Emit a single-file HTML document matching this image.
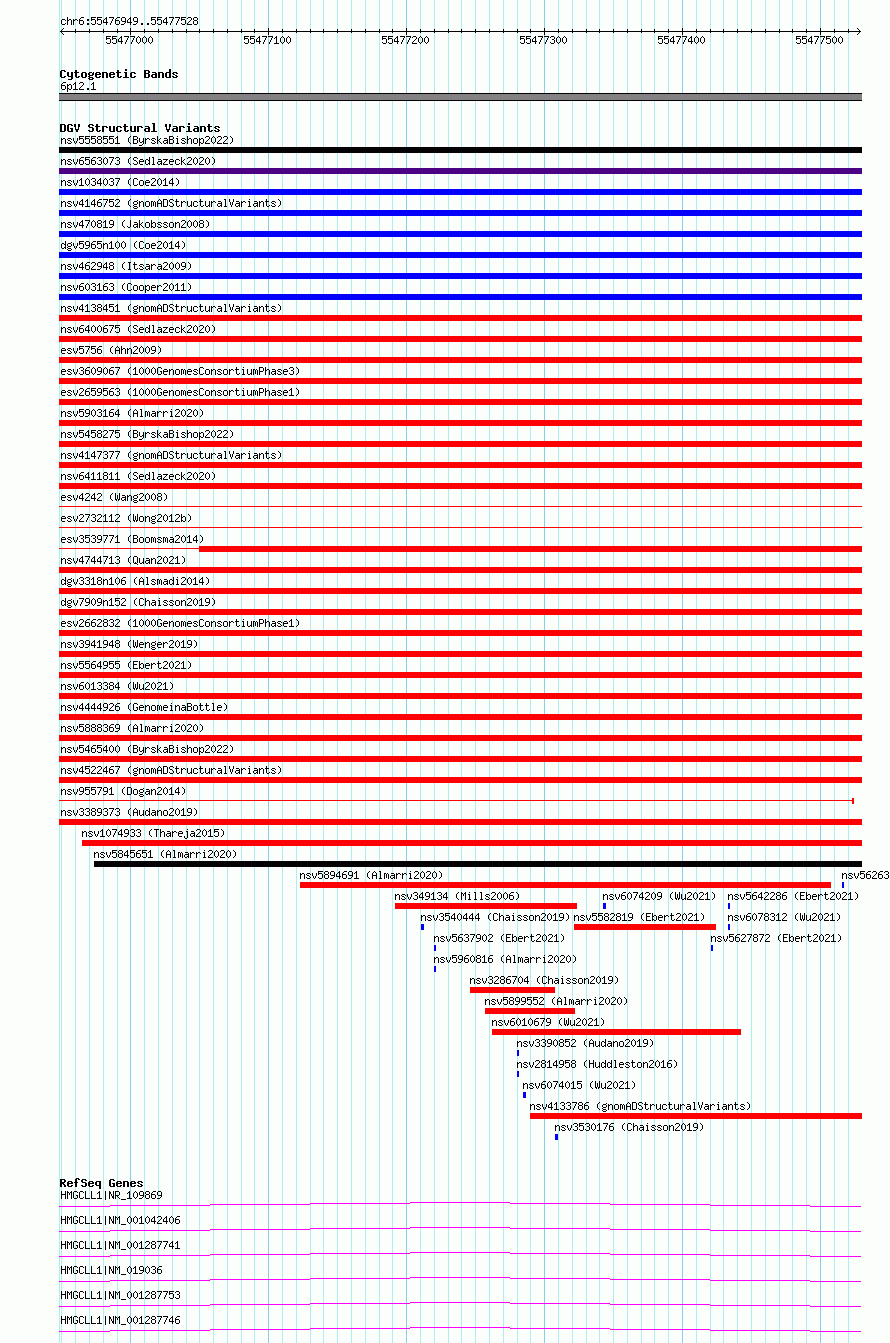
<!DOCTYPE html>
<html lang="en"><head><meta charset="utf-8"><title>chr6:55476949..55477528</title>
<style>html,body{margin:0;padding:0;overflow:hidden;background:#fcfefc;}body{width:890px;height:1343px;overflow:hidden;font-family:"Liberation Mono",monospace;}svg{display:block;}svg text{font-family:"Liberation Mono",monospace;font-size:10px;fill:#000;fill-opacity:0;white-space:pre;}svg text.b{font-weight:bold;font-size:11.67px;}</style></head><body>
<svg width="890" height="1343" viewBox="0 0 890 1343" shape-rendering="crispEdges">
<defs><path id="s40" d="M3 3h1v1h-1zM2 4h1v1h-1zM1 5h1v1h-1zM1 6h1v1h-1zM1 7h1v1h-1zM1 8h1v1h-1zM2 9h1v1h-1zM3 10h1v1h-1z"/><path id="s41" d="M1 3h1v1h-1zM2 4h1v1h-1zM3 5h1v1h-1zM3 6h1v1h-1zM3 7h1v1h-1zM3 8h1v1h-1zM2 9h1v1h-1zM1 10h1v1h-1z"/><path id="s46" d="M2 9h2v1h-2zM2 10h2v1h-2z"/><path id="s48" d="M2 3h1v1h-1zM1 4h1v1h-1zM3 4h1v1h-1zM0 5h1v1h-1zM4 5h1v1h-1zM0 6h1v1h-1zM4 6h1v1h-1zM0 7h1v1h-1zM4 7h1v1h-1zM0 8h1v1h-1zM4 8h1v1h-1zM1 9h1v1h-1zM3 9h1v1h-1zM2 10h1v1h-1z"/><path id="s49" d="M2 3h1v1h-1zM1 4h2v1h-2zM0 5h1v1h-1zM2 5h1v1h-1zM2 6h1v1h-1zM2 7h1v1h-1zM2 8h1v1h-1zM2 9h1v1h-1zM0 10h5v1h-5z"/><path id="s50" d="M1 3h3v1h-3zM0 4h1v1h-1zM4 4h1v1h-1zM4 5h1v1h-1zM3 6h1v1h-1zM2 7h1v1h-1zM1 8h1v1h-1zM0 9h1v1h-1zM0 10h5v1h-5z"/><path id="s51" d="M1 3h3v1h-3zM0 4h1v1h-1zM4 4h1v1h-1zM4 5h1v1h-1zM2 6h2v1h-2zM4 7h1v1h-1zM4 8h1v1h-1zM0 9h1v1h-1zM4 9h1v1h-1zM1 10h3v1h-3z"/><path id="s52" d="M3 3h1v1h-1zM2 4h2v1h-2zM1 5h1v1h-1zM3 5h1v1h-1zM0 6h1v1h-1zM3 6h1v1h-1zM0 7h1v1h-1zM3 7h1v1h-1zM0 8h5v1h-5zM3 9h1v1h-1zM3 10h1v1h-1z"/><path id="s53" d="M0 3h5v1h-5zM0 4h1v1h-1zM0 5h4v1h-4zM0 6h1v1h-1zM4 6h1v1h-1zM4 7h1v1h-1zM4 8h1v1h-1zM0 9h1v1h-1zM4 9h1v1h-1zM1 10h3v1h-3z"/><path id="s54" d="M2 3h3v1h-3zM1 4h1v1h-1zM0 5h1v1h-1zM0 6h4v1h-4zM0 7h1v1h-1zM4 7h1v1h-1zM0 8h1v1h-1zM4 8h1v1h-1zM0 9h1v1h-1zM4 9h1v1h-1zM1 10h3v1h-3z"/><path id="s55" d="M0 3h5v1h-5zM4 4h1v1h-1zM3 5h1v1h-1zM3 6h1v1h-1zM2 7h1v1h-1zM2 8h1v1h-1zM1 9h1v1h-1zM1 10h1v1h-1z"/><path id="s56" d="M1 3h3v1h-3zM0 4h1v1h-1zM4 4h1v1h-1zM0 5h1v1h-1zM4 5h1v1h-1zM1 6h3v1h-3zM0 7h1v1h-1zM4 7h1v1h-1zM0 8h1v1h-1zM4 8h1v1h-1zM0 9h1v1h-1zM4 9h1v1h-1zM1 10h3v1h-3z"/><path id="s57" d="M1 3h3v1h-3zM0 4h1v1h-1zM4 4h1v1h-1zM0 5h1v1h-1zM4 5h1v1h-1zM0 6h1v1h-1zM4 6h1v1h-1zM1 7h4v1h-4zM4 8h1v1h-1zM3 9h1v1h-1zM0 10h3v1h-3z"/><path id="s58" d="M2 5h2v1h-2zM2 6h2v1h-2zM2 9h2v1h-2zM2 10h2v1h-2z"/><path id="s65" d="M2 3h1v1h-1zM1 4h1v1h-1zM3 4h1v1h-1zM0 5h1v1h-1zM4 5h1v1h-1zM0 6h1v1h-1zM4 6h1v1h-1zM0 7h5v1h-5zM0 8h1v1h-1zM4 8h1v1h-1zM0 9h1v1h-1zM4 9h1v1h-1zM0 10h1v1h-1zM4 10h1v1h-1z"/><path id="s66" d="M0 3h4v1h-4zM0 4h1v1h-1zM4 4h1v1h-1zM0 5h1v1h-1zM4 5h1v1h-1zM0 6h4v1h-4zM0 7h1v1h-1zM4 7h1v1h-1zM0 8h1v1h-1zM4 8h1v1h-1zM0 9h1v1h-1zM4 9h1v1h-1zM0 10h4v1h-4z"/><path id="s67" d="M1 3h3v1h-3zM0 4h1v1h-1zM4 4h1v1h-1zM0 5h1v1h-1zM0 6h1v1h-1zM0 7h1v1h-1zM0 8h1v1h-1zM0 9h1v1h-1zM4 9h1v1h-1zM1 10h3v1h-3z"/><path id="s68" d="M0 3h4v1h-4zM0 4h1v1h-1zM4 4h1v1h-1zM0 5h1v1h-1zM4 5h1v1h-1zM0 6h1v1h-1zM4 6h1v1h-1zM0 7h1v1h-1zM4 7h1v1h-1zM0 8h1v1h-1zM4 8h1v1h-1zM0 9h1v1h-1zM4 9h1v1h-1zM0 10h4v1h-4z"/><path id="s69" d="M0 3h5v1h-5zM0 4h1v1h-1zM0 5h1v1h-1zM0 6h4v1h-4zM0 7h1v1h-1zM0 8h1v1h-1zM0 9h1v1h-1zM0 10h5v1h-5z"/><path id="s71" d="M1 3h3v1h-3zM0 4h1v1h-1zM4 4h1v1h-1zM0 5h1v1h-1zM0 6h1v1h-1zM0 7h1v1h-1zM3 7h2v1h-2zM0 8h1v1h-1zM4 8h1v1h-1zM0 9h1v1h-1zM4 9h1v1h-1zM1 10h3v1h-3z"/><path id="s72" d="M0 3h1v1h-1zM4 3h1v1h-1zM0 4h1v1h-1zM4 4h1v1h-1zM0 5h1v1h-1zM4 5h1v1h-1zM0 6h5v1h-5zM0 7h1v1h-1zM4 7h1v1h-1zM0 8h1v1h-1zM4 8h1v1h-1zM0 9h1v1h-1zM4 9h1v1h-1zM0 10h1v1h-1zM4 10h1v1h-1z"/><path id="s73" d="M1 3h3v1h-3zM2 4h1v1h-1zM2 5h1v1h-1zM2 6h1v1h-1zM2 7h1v1h-1zM2 8h1v1h-1zM2 9h1v1h-1zM1 10h3v1h-3z"/><path id="s74" d="M3 3h1v1h-1zM3 4h1v1h-1zM3 5h1v1h-1zM3 6h1v1h-1zM3 7h1v1h-1zM3 8h1v1h-1zM0 9h1v1h-1zM3 9h1v1h-1zM1 10h2v1h-2z"/><path id="s76" d="M0 3h1v1h-1zM0 4h1v1h-1zM0 5h1v1h-1zM0 6h1v1h-1zM0 7h1v1h-1zM0 8h1v1h-1zM0 9h1v1h-1zM0 10h5v1h-5z"/><path id="s77" d="M0 3h1v1h-1zM4 3h1v1h-1zM0 4h2v1h-2zM3 4h2v1h-2zM0 5h1v1h-1zM2 5h1v1h-1zM4 5h1v1h-1zM0 6h1v1h-1zM2 6h1v1h-1zM4 6h1v1h-1zM0 7h1v1h-1zM4 7h1v1h-1zM0 8h1v1h-1zM4 8h1v1h-1zM0 9h1v1h-1zM4 9h1v1h-1zM0 10h1v1h-1zM4 10h1v1h-1z"/><path id="s78" d="M0 3h1v1h-1zM4 3h1v1h-1zM0 4h2v1h-2zM4 4h1v1h-1zM0 5h2v1h-2zM4 5h1v1h-1zM0 6h1v1h-1zM2 6h1v1h-1zM4 6h1v1h-1zM0 7h1v1h-1zM2 7h1v1h-1zM4 7h1v1h-1zM0 8h1v1h-1zM3 8h2v1h-2zM0 9h1v1h-1zM3 9h2v1h-2zM0 10h1v1h-1zM4 10h1v1h-1z"/><path id="s80" d="M0 3h4v1h-4zM0 4h1v1h-1zM4 4h1v1h-1zM0 5h1v1h-1zM4 5h1v1h-1zM0 6h1v1h-1zM4 6h1v1h-1zM0 7h4v1h-4zM0 8h1v1h-1zM0 9h1v1h-1zM0 10h1v1h-1z"/><path id="s81" d="M1 3h3v1h-3zM0 4h1v1h-1zM4 4h1v1h-1zM0 5h1v1h-1zM4 5h1v1h-1zM0 6h1v1h-1zM4 6h1v1h-1zM0 7h1v1h-1zM4 7h1v1h-1zM0 8h1v1h-1zM4 8h1v1h-1zM0 9h1v1h-1zM2 9h1v1h-1zM4 9h1v1h-1zM1 10h3v1h-3zM4 11h1v1h-1z"/><path id="s82" d="M0 3h4v1h-4zM0 4h1v1h-1zM4 4h1v1h-1zM0 5h1v1h-1zM4 5h1v1h-1zM0 6h1v1h-1zM4 6h1v1h-1zM0 7h4v1h-4zM0 8h1v1h-1zM2 8h1v1h-1zM0 9h1v1h-1zM3 9h1v1h-1zM0 10h1v1h-1zM4 10h1v1h-1z"/><path id="s83" d="M1 3h3v1h-3zM0 4h1v1h-1zM4 4h1v1h-1zM0 5h1v1h-1zM1 6h2v1h-2zM3 7h1v1h-1zM4 8h1v1h-1zM0 9h1v1h-1zM4 9h1v1h-1zM1 10h3v1h-3z"/><path id="s84" d="M0 3h5v1h-5zM2 4h1v1h-1zM2 5h1v1h-1zM2 6h1v1h-1zM2 7h1v1h-1zM2 8h1v1h-1zM2 9h1v1h-1zM2 10h1v1h-1z"/><path id="s86" d="M0 3h1v1h-1zM4 3h1v1h-1zM0 4h1v1h-1zM4 4h1v1h-1zM0 5h1v1h-1zM4 5h1v1h-1zM1 6h1v1h-1zM3 6h1v1h-1zM1 7h1v1h-1zM3 7h1v1h-1zM1 8h1v1h-1zM3 8h1v1h-1zM2 9h1v1h-1zM2 10h1v1h-1z"/><path id="s87" d="M0 3h1v1h-1zM4 3h1v1h-1zM0 4h1v1h-1zM4 4h1v1h-1zM0 5h1v1h-1zM2 5h1v1h-1zM4 5h1v1h-1zM0 6h1v1h-1zM2 6h1v1h-1zM4 6h1v1h-1zM0 7h1v1h-1zM2 7h1v1h-1zM4 7h1v1h-1zM0 8h1v1h-1zM2 8h1v1h-1zM4 8h1v1h-1zM0 9h2v1h-2zM3 9h2v1h-2zM1 10h1v1h-1zM3 10h1v1h-1z"/><path id="s95" d="M0 11h5v1h-5z"/><path id="s97" d="M1 5h3v1h-3zM4 6h1v1h-1zM1 7h4v1h-4zM0 8h1v1h-1zM4 8h1v1h-1zM0 9h1v1h-1zM3 9h2v1h-2zM1 10h2v1h-2zM4 10h1v1h-1z"/><path id="s98" d="M0 3h1v1h-1zM0 4h1v1h-1zM0 5h1v1h-1zM2 5h2v1h-2zM0 6h2v1h-2zM4 6h1v1h-1zM0 7h1v1h-1zM4 7h1v1h-1zM0 8h1v1h-1zM4 8h1v1h-1zM0 9h2v1h-2zM4 9h1v1h-1zM0 10h1v1h-1zM2 10h2v1h-2z"/><path id="s99" d="M1 5h3v1h-3zM0 6h1v1h-1zM4 6h1v1h-1zM0 7h1v1h-1zM0 8h1v1h-1zM0 9h1v1h-1zM4 9h1v1h-1zM1 10h3v1h-3z"/><path id="s100" d="M4 3h1v1h-1zM4 4h1v1h-1zM1 5h2v1h-2zM4 5h1v1h-1zM0 6h1v1h-1zM3 6h2v1h-2zM0 7h1v1h-1zM4 7h1v1h-1zM0 8h1v1h-1zM4 8h1v1h-1zM0 9h1v1h-1zM3 9h2v1h-2zM1 10h2v1h-2zM4 10h1v1h-1z"/><path id="s101" d="M1 5h3v1h-3zM0 6h1v1h-1zM4 6h1v1h-1zM0 7h5v1h-5zM0 8h1v1h-1zM0 9h1v1h-1zM1 10h3v1h-3z"/><path id="s103" d="M4 4h1v1h-1zM1 5h3v1h-3zM0 6h1v1h-1zM4 6h1v1h-1zM0 7h1v1h-1zM4 7h1v1h-1zM1 8h3v1h-3zM0 9h1v1h-1zM1 10h3v1h-3zM0 11h1v1h-1zM4 11h1v1h-1zM1 12h3v1h-3z"/><path id="s104" d="M0 3h1v1h-1zM0 4h1v1h-1zM0 5h1v1h-1zM2 5h2v1h-2zM0 6h2v1h-2zM4 6h1v1h-1zM0 7h1v1h-1zM4 7h1v1h-1zM0 8h1v1h-1zM4 8h1v1h-1zM0 9h1v1h-1zM4 9h1v1h-1zM0 10h1v1h-1zM4 10h1v1h-1z"/><path id="s105" d="M2 3h1v1h-1zM1 5h2v1h-2zM2 6h1v1h-1zM2 7h1v1h-1zM2 8h1v1h-1zM2 9h1v1h-1zM1 10h3v1h-3z"/><path id="s106" d="M3 3h1v1h-1zM2 5h2v1h-2zM3 6h1v1h-1zM3 7h1v1h-1zM3 8h1v1h-1zM3 9h1v1h-1zM0 10h1v1h-1zM3 10h1v1h-1zM0 11h1v1h-1zM3 11h1v1h-1zM1 12h2v1h-2z"/><path id="s107" d="M0 3h1v1h-1zM0 4h1v1h-1zM0 5h1v1h-1zM3 5h1v1h-1zM0 6h1v1h-1zM2 6h1v1h-1zM0 7h2v1h-2zM0 8h1v1h-1zM2 8h1v1h-1zM0 9h1v1h-1zM3 9h1v1h-1zM0 10h1v1h-1zM4 10h1v1h-1z"/><path id="s108" d="M1 3h2v1h-2zM2 4h1v1h-1zM2 5h1v1h-1zM2 6h1v1h-1zM2 7h1v1h-1zM2 8h1v1h-1zM2 9h1v1h-1zM1 10h3v1h-3z"/><path id="s109" d="M0 5h2v1h-2zM3 5h1v1h-1zM0 6h1v1h-1zM2 6h1v1h-1zM4 6h1v1h-1zM0 7h1v1h-1zM2 7h1v1h-1zM4 7h1v1h-1zM0 8h1v1h-1zM2 8h1v1h-1zM4 8h1v1h-1zM0 9h1v1h-1zM2 9h1v1h-1zM4 9h1v1h-1zM0 10h1v1h-1zM4 10h1v1h-1z"/><path id="s110" d="M0 5h1v1h-1zM2 5h2v1h-2zM0 6h2v1h-2zM4 6h1v1h-1zM0 7h1v1h-1zM4 7h1v1h-1zM0 8h1v1h-1zM4 8h1v1h-1zM0 9h1v1h-1zM4 9h1v1h-1zM0 10h1v1h-1zM4 10h1v1h-1z"/><path id="s111" d="M1 5h3v1h-3zM0 6h1v1h-1zM4 6h1v1h-1zM0 7h1v1h-1zM4 7h1v1h-1zM0 8h1v1h-1zM4 8h1v1h-1zM0 9h1v1h-1zM4 9h1v1h-1zM1 10h3v1h-3z"/><path id="s112" d="M0 5h1v1h-1zM2 5h2v1h-2zM0 6h2v1h-2zM4 6h1v1h-1zM0 7h1v1h-1zM4 7h1v1h-1zM0 8h1v1h-1zM4 8h1v1h-1zM0 9h2v1h-2zM4 9h1v1h-1zM0 10h1v1h-1zM2 10h2v1h-2zM0 11h1v1h-1zM0 12h1v1h-1z"/><path id="s114" d="M0 5h1v1h-1zM2 5h2v1h-2zM0 6h2v1h-2zM4 6h1v1h-1zM0 7h1v1h-1zM0 8h1v1h-1zM0 9h1v1h-1zM0 10h1v1h-1z"/><path id="s115" d="M1 5h3v1h-3zM0 6h1v1h-1zM4 6h1v1h-1zM1 7h2v1h-2zM3 8h1v1h-1zM0 9h1v1h-1zM4 9h1v1h-1zM1 10h3v1h-3z"/><path id="s116" d="M1 3h1v1h-1zM1 4h1v1h-1zM0 5h4v1h-4zM1 6h1v1h-1zM1 7h1v1h-1zM1 8h1v1h-1zM1 9h1v1h-1zM4 9h1v1h-1zM2 10h2v1h-2z"/><path id="s117" d="M0 5h1v1h-1zM4 5h1v1h-1zM0 6h1v1h-1zM4 6h1v1h-1zM0 7h1v1h-1zM4 7h1v1h-1zM0 8h1v1h-1zM4 8h1v1h-1zM0 9h1v1h-1zM3 9h2v1h-2zM1 10h2v1h-2zM4 10h1v1h-1z"/><path id="s118" d="M0 5h1v1h-1zM4 5h1v1h-1zM0 6h1v1h-1zM4 6h1v1h-1zM0 7h1v1h-1zM4 7h1v1h-1zM1 8h1v1h-1zM3 8h1v1h-1zM1 9h1v1h-1zM3 9h1v1h-1zM2 10h1v1h-1z"/><path id="s121" d="M0 5h1v1h-1zM4 5h1v1h-1zM0 6h1v1h-1zM4 6h1v1h-1zM0 7h1v1h-1zM4 7h1v1h-1zM0 8h1v1h-1zM3 8h2v1h-2zM1 9h2v1h-2zM4 9h1v1h-1zM4 10h1v1h-1zM3 11h1v1h-1zM0 12h3v1h-3z"/><path id="s122" d="M0 5h5v1h-5zM3 6h1v1h-1zM2 7h1v1h-1zM1 8h1v1h-1zM0 9h1v1h-1zM0 10h5v1h-5z"/><path id="s124" d="M2 3h1v1h-1zM2 4h1v1h-1zM2 5h1v1h-1zM2 6h1v1h-1zM2 7h1v1h-1zM2 8h1v1h-1zM2 9h1v1h-1zM2 10h1v1h-1zM2 11h1v1h-1z"/><path id="b66" d="M0 3h5v1h-5zM0 4h2v1h-2zM4 4h2v1h-2zM0 5h2v1h-2zM4 5h2v1h-2zM0 6h5v1h-5zM0 7h2v1h-2zM4 7h2v1h-2zM0 8h2v1h-2zM4 8h2v1h-2zM0 9h2v1h-2zM4 9h2v1h-2zM0 10h5v1h-5z"/><path id="b67" d="M1 3h4v1h-4zM0 4h2v1h-2zM4 4h2v1h-2zM0 5h2v1h-2zM0 6h2v1h-2zM0 7h2v1h-2zM0 8h2v1h-2zM0 9h2v1h-2zM4 9h2v1h-2zM1 10h4v1h-4z"/><path id="b68" d="M0 3h5v1h-5zM0 4h2v1h-2zM4 4h2v1h-2zM0 5h2v1h-2zM4 5h2v1h-2zM0 6h2v1h-2zM4 6h2v1h-2zM0 7h2v1h-2zM4 7h2v1h-2zM0 8h2v1h-2zM4 8h2v1h-2zM0 9h2v1h-2zM4 9h2v1h-2zM0 10h5v1h-5z"/><path id="b71" d="M1 3h4v1h-4zM0 4h2v1h-2zM4 4h2v1h-2zM0 5h2v1h-2zM0 6h2v1h-2zM0 7h2v1h-2zM3 7h3v1h-3zM0 8h2v1h-2zM4 8h2v1h-2zM0 9h2v1h-2zM4 9h2v1h-2zM1 10h5v1h-5z"/><path id="b82" d="M0 3h5v1h-5zM0 4h2v1h-2zM4 4h2v1h-2zM0 5h2v1h-2zM4 5h2v1h-2zM0 6h5v1h-5zM0 7h4v1h-4zM0 8h2v1h-2zM3 8h2v1h-2zM0 9h2v1h-2zM4 9h2v1h-2zM0 10h2v1h-2zM4 10h2v1h-2z"/><path id="b83" d="M1 3h4v1h-4zM0 4h2v1h-2zM4 4h2v1h-2zM0 5h2v1h-2zM1 6h4v1h-4zM4 7h2v1h-2zM4 8h2v1h-2zM0 9h2v1h-2zM4 9h2v1h-2zM1 10h4v1h-4z"/><path id="b86" d="M0 3h2v1h-2zM4 3h2v1h-2zM0 4h2v1h-2zM4 4h2v1h-2zM0 5h2v1h-2zM4 5h2v1h-2zM1 6h1v1h-1zM4 6h1v1h-1zM1 7h1v1h-1zM4 7h1v1h-1zM1 8h4v1h-4zM2 9h2v1h-2zM2 10h2v1h-2z"/><path id="b97" d="M1 5h4v1h-4zM4 6h2v1h-2zM1 7h5v1h-5zM0 8h2v1h-2zM4 8h2v1h-2zM0 9h2v1h-2zM4 9h2v1h-2zM1 10h5v1h-5z"/><path id="b99" d="M1 5h4v1h-4zM0 6h2v1h-2zM4 6h2v1h-2zM0 7h2v1h-2zM0 8h2v1h-2zM0 9h2v1h-2zM4 9h2v1h-2zM1 10h4v1h-4z"/><path id="b100" d="M4 2h2v1h-2zM4 3h2v1h-2zM4 4h2v1h-2zM1 5h5v1h-5zM0 6h2v1h-2zM4 6h2v1h-2zM0 7h2v1h-2zM4 7h2v1h-2zM0 8h2v1h-2zM4 8h2v1h-2zM0 9h2v1h-2zM4 9h2v1h-2zM1 10h5v1h-5z"/><path id="b101" d="M1 5h4v1h-4zM0 6h2v1h-2zM4 6h2v1h-2zM0 7h6v1h-6zM0 8h2v1h-2zM0 9h2v1h-2zM4 9h2v1h-2zM1 10h4v1h-4z"/><path id="b102" d="M2 2h3v1h-3zM1 3h2v1h-2zM4 3h2v1h-2zM1 4h2v1h-2zM1 5h2v1h-2zM0 6h4v1h-4zM1 7h2v1h-2zM1 8h2v1h-2zM1 9h2v1h-2zM1 10h2v1h-2z"/><path id="b103" d="M1 5h3v1h-3zM5 5h1v1h-1zM0 6h2v1h-2zM4 6h2v1h-2zM0 7h2v1h-2zM4 7h2v1h-2zM1 8h4v1h-4zM0 9h2v1h-2zM1 10h4v1h-4zM0 11h2v1h-2zM4 11h2v1h-2zM1 12h4v1h-4z"/><path id="b105" d="M2 2h2v1h-2zM2 3h2v1h-2zM1 5h3v1h-3zM2 6h2v1h-2zM2 7h2v1h-2zM2 8h2v1h-2zM2 9h2v1h-2zM0 10h6v1h-6z"/><path id="b108" d="M1 2h3v1h-3zM2 3h2v1h-2zM2 4h2v1h-2zM2 5h2v1h-2zM2 6h2v1h-2zM2 7h2v1h-2zM2 8h2v1h-2zM2 9h2v1h-2zM0 10h6v1h-6z"/><path id="b110" d="M0 5h5v1h-5zM0 6h2v1h-2zM4 6h2v1h-2zM0 7h2v1h-2zM4 7h2v1h-2zM0 8h2v1h-2zM4 8h2v1h-2zM0 9h2v1h-2zM4 9h2v1h-2zM0 10h2v1h-2zM4 10h2v1h-2z"/><path id="b111" d="M1 5h4v1h-4zM0 6h2v1h-2zM4 6h2v1h-2zM0 7h2v1h-2zM4 7h2v1h-2zM0 8h2v1h-2zM4 8h2v1h-2zM0 9h2v1h-2zM4 9h2v1h-2zM1 10h4v1h-4z"/><path id="b113" d="M1 5h5v1h-5zM0 6h2v1h-2zM4 6h2v1h-2zM0 7h2v1h-2zM4 7h2v1h-2zM0 8h2v1h-2zM4 8h2v1h-2zM1 9h5v1h-5zM4 10h2v1h-2zM4 11h2v1h-2zM4 12h2v1h-2z"/><path id="b114" d="M0 5h5v1h-5zM0 6h2v1h-2zM4 6h2v1h-2zM0 7h2v1h-2zM0 8h2v1h-2zM0 9h2v1h-2zM0 10h2v1h-2z"/><path id="b115" d="M1 5h4v1h-4zM0 6h2v1h-2zM4 6h2v1h-2zM1 7h2v1h-2zM3 8h2v1h-2zM0 9h2v1h-2zM4 9h2v1h-2zM1 10h4v1h-4z"/><path id="b116" d="M1 3h2v1h-2zM1 4h2v1h-2zM0 5h5v1h-5zM1 6h2v1h-2zM1 7h2v1h-2zM1 8h2v1h-2zM1 9h2v1h-2zM4 9h2v1h-2zM2 10h3v1h-3z"/><path id="b117" d="M0 5h2v1h-2zM4 5h2v1h-2zM0 6h2v1h-2zM4 6h2v1h-2zM0 7h2v1h-2zM4 7h2v1h-2zM0 8h2v1h-2zM4 8h2v1h-2zM0 9h2v1h-2zM4 9h2v1h-2zM1 10h5v1h-5z"/><path id="b121" d="M0 5h2v1h-2zM4 5h2v1h-2zM0 6h2v1h-2zM4 6h2v1h-2zM0 7h2v1h-2zM4 7h2v1h-2zM0 8h2v1h-2zM4 8h2v1h-2zM1 9h5v1h-5zM4 10h2v1h-2zM4 11h2v1h-2zM1 12h4v1h-4z"/></defs>
<rect width="890" height="1343" fill="#fcfefc"/>
<path fill="#afeeee" d="M59 0h1v1343h-1zM61 0h1v1343h-1zM75 0h1v1343h-1zM89 0h1v1343h-1zM103 0h1v1343h-1zM117 0h1v1343h-1zM130 0h1v1343h-1zM144 0h1v1343h-1zM158 0h1v1343h-1zM172 0h1v1343h-1zM186 0h1v1343h-1zM199 0h1v1343h-1zM213 0h1v1343h-1zM227 0h1v1343h-1zM241 0h1v1343h-1zM254 0h1v1343h-1zM268 0h1v1343h-1zM282 0h1v1343h-1zM296 0h1v1343h-1zM310 0h1v1343h-1zM323 0h1v1343h-1zM337 0h1v1343h-1zM351 0h1v1343h-1zM365 0h1v1343h-1zM379 0h1v1343h-1zM392 0h1v1343h-1zM406 0h1v1343h-1zM420 0h1v1343h-1zM434 0h1v1343h-1zM448 0h1v1343h-1zM461 0h1v1343h-1zM475 0h1v1343h-1zM489 0h1v1343h-1zM503 0h1v1343h-1zM517 0h1v1343h-1zM530 0h1v1343h-1zM544 0h1v1343h-1zM558 0h1v1343h-1zM572 0h1v1343h-1zM586 0h1v1343h-1zM599 0h1v1343h-1zM613 0h1v1343h-1zM627 0h1v1343h-1zM641 0h1v1343h-1zM654 0h1v1343h-1zM668 0h1v1343h-1zM682 0h1v1343h-1zM696 0h1v1343h-1zM710 0h1v1343h-1zM723 0h1v1343h-1zM737 0h1v1343h-1zM751 0h1v1343h-1zM765 0h1v1343h-1zM779 0h1v1343h-1zM792 0h1v1343h-1zM806 0h1v1343h-1zM820 0h1v1343h-1zM834 0h1v1343h-1zM848 0h1v1343h-1z"/>
<path fill="#87ceeb" d="M130 0h1v1343h-1zM268 0h1v1343h-1zM406 0h1v1343h-1zM544 0h1v1343h-1zM682 0h1v1343h-1zM820 0h1v1343h-1z"/>
<path fill="#050206" d="M60 31h801v1h-801zM63 28h1v1h-1zM62 29h1v1h-1zM61 30h1v1h-1zM60 31h1v1h-1zM60 31h1v1h-1zM61 32h1v1h-1zM62 33h1v1h-1zM63 34h1v1h-1zM857 28h1v1h-1zM858 29h1v1h-1zM859 30h1v1h-1zM860 31h1v1h-1zM860 31h1v1h-1zM859 32h1v1h-1zM858 33h1v1h-1zM857 34h1v1h-1zM75 29h1v4h-1zM89 29h1v4h-1zM103 29h1v4h-1zM117 29h1v4h-1zM130 29h1v4h-1zM144 29h1v4h-1zM158 29h1v4h-1zM172 29h1v4h-1zM186 29h1v4h-1zM199 29h1v4h-1zM213 29h1v4h-1zM227 29h1v4h-1zM241 29h1v4h-1zM254 29h1v4h-1zM268 29h1v4h-1zM282 29h1v4h-1zM296 29h1v4h-1zM310 29h1v4h-1zM323 29h1v4h-1zM337 29h1v4h-1zM351 29h1v4h-1zM365 29h1v4h-1zM379 29h1v4h-1zM392 29h1v4h-1zM406 29h1v4h-1zM420 29h1v4h-1zM434 29h1v4h-1zM448 29h1v4h-1zM461 29h1v4h-1zM475 29h1v4h-1zM489 29h1v4h-1zM503 29h1v4h-1zM517 29h1v4h-1zM530 29h1v4h-1zM544 29h1v4h-1zM558 29h1v4h-1zM572 29h1v4h-1zM586 29h1v4h-1zM599 29h1v4h-1zM613 29h1v4h-1zM627 29h1v4h-1zM641 29h1v4h-1zM654 29h1v4h-1zM668 29h1v4h-1zM682 29h1v4h-1zM696 29h1v4h-1zM710 29h1v4h-1zM723 29h1v4h-1zM737 29h1v4h-1zM751 29h1v4h-1zM765 29h1v4h-1zM779 29h1v4h-1zM792 29h1v4h-1zM806 29h1v4h-1zM820 29h1v4h-1zM834 29h1v4h-1zM848 29h1v4h-1zM130 28h1v7h-1zM268 28h1v7h-1zM406 28h1v7h-1zM544 28h1v7h-1zM682 28h1v7h-1zM820 28h1v7h-1z"/>
<path fill="#838184" d="M59 93h803v8h-803z"/>
<path fill="#050206" d="M59 93h803v1h-803zM59 100h803v1h-803zM59 147h803v6h-803z"/>
<path fill="#4b0285" d="M59 168h803v6h-803z"/>
<path fill="#0301f9" d="M59 189h803v6h-803zM59 210h803v6h-803zM59 231h803v6h-803zM59 252h803v6h-803zM59 273h803v6h-803zM59 294h803v6h-803z"/>
<path fill="#fc0205" d="M59 315h803v6h-803zM59 336h803v6h-803zM59 357h803v6h-803zM59 378h803v6h-803zM59 399h803v6h-803zM59 420h803v6h-803zM59 441h803v6h-803zM59 462h803v6h-803zM59 483h803v6h-803zM59 506h803v1h-803zM59 527h803v1h-803zM59 548h141v1h-141zM199 546h663v6h-663zM59 567h803v6h-803zM59 588h803v6h-803zM59 609h803v6h-803zM59 630h803v6h-803zM59 651h803v6h-803zM59 672h803v6h-803zM59 693h803v6h-803zM59 714h803v6h-803zM59 735h803v6h-803zM59 756h803v6h-803zM59 777h803v6h-803zM59 800h794v1h-794zM852 798h2v6h-2zM59 819h803v6h-803zM82 840h780v6h-780z"/>
<path fill="#050206" d="M94 861h768v6h-768z"/>
<path fill="#fc0205" d="M300 882h531v6h-531z"/>
<path fill="#0301f9" d="M842 882h2v6h-2z"/>
<path fill="#fc0205" d="M395 903h182v6h-182z"/>
<path fill="#0301f9" d="M603 903h3v6h-3zM728 903h2v6h-2zM421 924h3v6h-3z"/>
<path fill="#fc0205" d="M574 924h142v6h-142z"/>
<path fill="#0301f9" d="M728 924h2v6h-2zM434 945h2v6h-2zM711 945h2v6h-2zM434 966h2v6h-2z"/>
<path fill="#fc0205" d="M470 987h85v6h-85zM485 1008h90v6h-90zM492 1029h249v6h-249z"/>
<path fill="#0301f9" d="M517 1050h2v6h-2zM517 1071h2v6h-2zM523 1092h3v6h-3z"/>
<path fill="#fc0205" d="M530 1113h332v6h-332z"/>
<path fill="#0301f9" d="M555 1134h3v6h-3z"/>
<path fill="#fc02f9" d="M410 1202h51v1h-51zM310 1203h100v1h-100zM210 1204h100v1h-100zM110 1205h100v1h-100zM59 1206h51v1h-51zM460 1202h50v1h-50zM510 1203h100v1h-100zM610 1204h100v1h-100zM710 1205h100v1h-100zM810 1206h51v1h-51zM410 1227h51v1h-51zM310 1228h100v1h-100zM210 1229h100v1h-100zM110 1230h100v1h-100zM59 1231h51v1h-51zM460 1227h50v1h-50zM510 1228h100v1h-100zM610 1229h100v1h-100zM710 1230h100v1h-100zM810 1231h51v1h-51zM410 1252h51v1h-51zM310 1253h100v1h-100zM210 1254h100v1h-100zM110 1255h100v1h-100zM59 1256h51v1h-51zM460 1252h50v1h-50zM510 1253h100v1h-100zM610 1254h100v1h-100zM710 1255h100v1h-100zM810 1256h51v1h-51zM410 1277h51v1h-51zM310 1278h100v1h-100zM210 1279h100v1h-100zM110 1280h100v1h-100zM59 1281h51v1h-51zM460 1277h50v1h-50zM510 1278h100v1h-100zM610 1279h100v1h-100zM710 1280h100v1h-100zM810 1281h51v1h-51zM410 1302h51v1h-51zM310 1303h100v1h-100zM210 1304h100v1h-100zM110 1305h100v1h-100zM59 1306h51v1h-51zM460 1302h50v1h-50zM510 1303h100v1h-100zM610 1304h100v1h-100zM710 1305h100v1h-100zM810 1306h51v1h-51zM410 1327h51v1h-51zM310 1328h100v1h-100zM210 1329h100v1h-100zM110 1330h100v1h-100zM59 1331h51v1h-51zM460 1327h50v1h-50zM510 1328h100v1h-100zM610 1329h100v1h-100zM710 1330h100v1h-100zM810 1331h51v1h-51z"/>
<g fill="#050206">
<g transform="translate(61 14)"><use href="#s99" x="0"/><use href="#s104" x="6"/><use href="#s114" x="12"/><use href="#s54" x="18"/><use href="#s58" x="24"/><use href="#s53" x="30"/><use href="#s53" x="36"/><use href="#s52" x="42"/><use href="#s55" x="48"/><use href="#s54" x="54"/><use href="#s57" x="60"/><use href="#s52" x="66"/><use href="#s57" x="72"/><use href="#s46" x="78"/><use href="#s46" x="84"/><use href="#s53" x="90"/><use href="#s53" x="96"/><use href="#s52" x="102"/><use href="#s55" x="108"/><use href="#s55" x="114"/><use href="#s53" x="120"/><use href="#s50" x="126"/><use href="#s56" x="132"/><text x="0" y="10">chr6:55476949..55477528</text></g>
<g transform="translate(106 33)"><use href="#s53" x="0"/><use href="#s53" x="6"/><use href="#s52" x="12"/><use href="#s55" x="18"/><use href="#s55" x="24"/><use href="#s48" x="30"/><use href="#s48" x="36"/><use href="#s48" x="42"/><text x="0" y="10">55477000</text></g>
<g transform="translate(244 33)"><use href="#s53" x="0"/><use href="#s53" x="6"/><use href="#s52" x="12"/><use href="#s55" x="18"/><use href="#s55" x="24"/><use href="#s49" x="30"/><use href="#s48" x="36"/><use href="#s48" x="42"/><text x="0" y="10">55477100</text></g>
<g transform="translate(382 33)"><use href="#s53" x="0"/><use href="#s53" x="6"/><use href="#s52" x="12"/><use href="#s55" x="18"/><use href="#s55" x="24"/><use href="#s50" x="30"/><use href="#s48" x="36"/><use href="#s48" x="42"/><text x="0" y="10">55477200</text></g>
<g transform="translate(520 33)"><use href="#s53" x="0"/><use href="#s53" x="6"/><use href="#s52" x="12"/><use href="#s55" x="18"/><use href="#s55" x="24"/><use href="#s51" x="30"/><use href="#s48" x="36"/><use href="#s48" x="42"/><text x="0" y="10">55477300</text></g>
<g transform="translate(658 33)"><use href="#s53" x="0"/><use href="#s53" x="6"/><use href="#s52" x="12"/><use href="#s55" x="18"/><use href="#s55" x="24"/><use href="#s52" x="30"/><use href="#s48" x="36"/><use href="#s48" x="42"/><text x="0" y="10">55477400</text></g>
<g transform="translate(796 33)"><use href="#s53" x="0"/><use href="#s53" x="6"/><use href="#s52" x="12"/><use href="#s55" x="18"/><use href="#s55" x="24"/><use href="#s53" x="30"/><use href="#s48" x="36"/><use href="#s48" x="42"/><text x="0" y="10">55477500</text></g>
<g transform="translate(60 67)"><use href="#b67" x="0"/><use href="#b121" x="7"/><use href="#b116" x="14"/><use href="#b111" x="21"/><use href="#b103" x="28"/><use href="#b101" x="35"/><use href="#b110" x="42"/><use href="#b101" x="49"/><use href="#b116" x="56"/><use href="#b105" x="63"/><use href="#b99" x="70"/><use href="#b66" x="84"/><use href="#b97" x="91"/><use href="#b110" x="98"/><use href="#b100" x="105"/><use href="#b115" x="112"/><text class="b" x="0" y="10">Cytogenetic Bands</text></g>
<g transform="translate(61 79)"><use href="#s54" x="0"/><use href="#s112" x="6"/><use href="#s49" x="12"/><use href="#s50" x="18"/><use href="#s46" x="24"/><use href="#s49" x="30"/><text x="0" y="10">6p12.1</text></g>
<g transform="translate(60 121)"><use href="#b68" x="0"/><use href="#b71" x="7"/><use href="#b86" x="14"/><use href="#b83" x="28"/><use href="#b116" x="35"/><use href="#b114" x="42"/><use href="#b117" x="49"/><use href="#b99" x="56"/><use href="#b116" x="63"/><use href="#b117" x="70"/><use href="#b114" x="77"/><use href="#b97" x="84"/><use href="#b108" x="91"/><use href="#b86" x="105"/><use href="#b97" x="112"/><use href="#b114" x="119"/><use href="#b105" x="126"/><use href="#b97" x="133"/><use href="#b110" x="140"/><use href="#b116" x="147"/><use href="#b115" x="154"/><text class="b" x="0" y="10">DGV Structural Variants</text></g>
<g transform="translate(61 133)"><use href="#s110" x="0"/><use href="#s115" x="6"/><use href="#s118" x="12"/><use href="#s53" x="18"/><use href="#s53" x="24"/><use href="#s53" x="30"/><use href="#s56" x="36"/><use href="#s53" x="42"/><use href="#s53" x="48"/><use href="#s49" x="54"/><use href="#s40" x="66"/><use href="#s66" x="72"/><use href="#s121" x="78"/><use href="#s114" x="84"/><use href="#s115" x="90"/><use href="#s107" x="96"/><use href="#s97" x="102"/><use href="#s66" x="108"/><use href="#s105" x="114"/><use href="#s115" x="120"/><use href="#s104" x="126"/><use href="#s111" x="132"/><use href="#s112" x="138"/><use href="#s50" x="144"/><use href="#s48" x="150"/><use href="#s50" x="156"/><use href="#s50" x="162"/><use href="#s41" x="168"/><text x="0" y="10">nsv5558551 (ByrskaBishop2022)</text></g>
<g transform="translate(61 154)"><use href="#s110" x="0"/><use href="#s115" x="6"/><use href="#s118" x="12"/><use href="#s54" x="18"/><use href="#s53" x="24"/><use href="#s54" x="30"/><use href="#s51" x="36"/><use href="#s48" x="42"/><use href="#s55" x="48"/><use href="#s51" x="54"/><use href="#s40" x="66"/><use href="#s83" x="72"/><use href="#s101" x="78"/><use href="#s100" x="84"/><use href="#s108" x="90"/><use href="#s97" x="96"/><use href="#s122" x="102"/><use href="#s101" x="108"/><use href="#s99" x="114"/><use href="#s107" x="120"/><use href="#s50" x="126"/><use href="#s48" x="132"/><use href="#s50" x="138"/><use href="#s48" x="144"/><use href="#s41" x="150"/><text x="0" y="10">nsv6563073 (Sedlazeck2020)</text></g>
<g transform="translate(61 175)"><use href="#s110" x="0"/><use href="#s115" x="6"/><use href="#s118" x="12"/><use href="#s49" x="18"/><use href="#s48" x="24"/><use href="#s51" x="30"/><use href="#s52" x="36"/><use href="#s48" x="42"/><use href="#s51" x="48"/><use href="#s55" x="54"/><use href="#s40" x="66"/><use href="#s67" x="72"/><use href="#s111" x="78"/><use href="#s101" x="84"/><use href="#s50" x="90"/><use href="#s48" x="96"/><use href="#s49" x="102"/><use href="#s52" x="108"/><use href="#s41" x="114"/><text x="0" y="10">nsv1034037 (Coe2014)</text></g>
<g transform="translate(61 196)"><use href="#s110" x="0"/><use href="#s115" x="6"/><use href="#s118" x="12"/><use href="#s52" x="18"/><use href="#s49" x="24"/><use href="#s52" x="30"/><use href="#s54" x="36"/><use href="#s55" x="42"/><use href="#s53" x="48"/><use href="#s50" x="54"/><use href="#s40" x="66"/><use href="#s103" x="72"/><use href="#s110" x="78"/><use href="#s111" x="84"/><use href="#s109" x="90"/><use href="#s65" x="96"/><use href="#s68" x="102"/><use href="#s83" x="108"/><use href="#s116" x="114"/><use href="#s114" x="120"/><use href="#s117" x="126"/><use href="#s99" x="132"/><use href="#s116" x="138"/><use href="#s117" x="144"/><use href="#s114" x="150"/><use href="#s97" x="156"/><use href="#s108" x="162"/><use href="#s86" x="168"/><use href="#s97" x="174"/><use href="#s114" x="180"/><use href="#s105" x="186"/><use href="#s97" x="192"/><use href="#s110" x="198"/><use href="#s116" x="204"/><use href="#s115" x="210"/><use href="#s41" x="216"/><text x="0" y="10">nsv4146752 (gnomADStructuralVariants)</text></g>
<g transform="translate(61 217)"><use href="#s110" x="0"/><use href="#s115" x="6"/><use href="#s118" x="12"/><use href="#s52" x="18"/><use href="#s55" x="24"/><use href="#s48" x="30"/><use href="#s56" x="36"/><use href="#s49" x="42"/><use href="#s57" x="48"/><use href="#s40" x="60"/><use href="#s74" x="66"/><use href="#s97" x="72"/><use href="#s107" x="78"/><use href="#s111" x="84"/><use href="#s98" x="90"/><use href="#s115" x="96"/><use href="#s115" x="102"/><use href="#s111" x="108"/><use href="#s110" x="114"/><use href="#s50" x="120"/><use href="#s48" x="126"/><use href="#s48" x="132"/><use href="#s56" x="138"/><use href="#s41" x="144"/><text x="0" y="10">nsv470819 (Jakobsson2008)</text></g>
<g transform="translate(61 238)"><use href="#s100" x="0"/><use href="#s103" x="6"/><use href="#s118" x="12"/><use href="#s53" x="18"/><use href="#s57" x="24"/><use href="#s54" x="30"/><use href="#s53" x="36"/><use href="#s110" x="42"/><use href="#s49" x="48"/><use href="#s48" x="54"/><use href="#s48" x="60"/><use href="#s40" x="72"/><use href="#s67" x="78"/><use href="#s111" x="84"/><use href="#s101" x="90"/><use href="#s50" x="96"/><use href="#s48" x="102"/><use href="#s49" x="108"/><use href="#s52" x="114"/><use href="#s41" x="120"/><text x="0" y="10">dgv5965n100 (Coe2014)</text></g>
<g transform="translate(61 259)"><use href="#s110" x="0"/><use href="#s115" x="6"/><use href="#s118" x="12"/><use href="#s52" x="18"/><use href="#s54" x="24"/><use href="#s50" x="30"/><use href="#s57" x="36"/><use href="#s52" x="42"/><use href="#s56" x="48"/><use href="#s40" x="60"/><use href="#s73" x="66"/><use href="#s116" x="72"/><use href="#s115" x="78"/><use href="#s97" x="84"/><use href="#s114" x="90"/><use href="#s97" x="96"/><use href="#s50" x="102"/><use href="#s48" x="108"/><use href="#s48" x="114"/><use href="#s57" x="120"/><use href="#s41" x="126"/><text x="0" y="10">nsv462948 (Itsara2009)</text></g>
<g transform="translate(61 280)"><use href="#s110" x="0"/><use href="#s115" x="6"/><use href="#s118" x="12"/><use href="#s54" x="18"/><use href="#s48" x="24"/><use href="#s51" x="30"/><use href="#s49" x="36"/><use href="#s54" x="42"/><use href="#s51" x="48"/><use href="#s40" x="60"/><use href="#s67" x="66"/><use href="#s111" x="72"/><use href="#s111" x="78"/><use href="#s112" x="84"/><use href="#s101" x="90"/><use href="#s114" x="96"/><use href="#s50" x="102"/><use href="#s48" x="108"/><use href="#s49" x="114"/><use href="#s49" x="120"/><use href="#s41" x="126"/><text x="0" y="10">nsv603163 (Cooper2011)</text></g>
<g transform="translate(61 301)"><use href="#s110" x="0"/><use href="#s115" x="6"/><use href="#s118" x="12"/><use href="#s52" x="18"/><use href="#s49" x="24"/><use href="#s51" x="30"/><use href="#s56" x="36"/><use href="#s52" x="42"/><use href="#s53" x="48"/><use href="#s49" x="54"/><use href="#s40" x="66"/><use href="#s103" x="72"/><use href="#s110" x="78"/><use href="#s111" x="84"/><use href="#s109" x="90"/><use href="#s65" x="96"/><use href="#s68" x="102"/><use href="#s83" x="108"/><use href="#s116" x="114"/><use href="#s114" x="120"/><use href="#s117" x="126"/><use href="#s99" x="132"/><use href="#s116" x="138"/><use href="#s117" x="144"/><use href="#s114" x="150"/><use href="#s97" x="156"/><use href="#s108" x="162"/><use href="#s86" x="168"/><use href="#s97" x="174"/><use href="#s114" x="180"/><use href="#s105" x="186"/><use href="#s97" x="192"/><use href="#s110" x="198"/><use href="#s116" x="204"/><use href="#s115" x="210"/><use href="#s41" x="216"/><text x="0" y="10">nsv4138451 (gnomADStructuralVariants)</text></g>
<g transform="translate(61 322)"><use href="#s110" x="0"/><use href="#s115" x="6"/><use href="#s118" x="12"/><use href="#s54" x="18"/><use href="#s52" x="24"/><use href="#s48" x="30"/><use href="#s48" x="36"/><use href="#s54" x="42"/><use href="#s55" x="48"/><use href="#s53" x="54"/><use href="#s40" x="66"/><use href="#s83" x="72"/><use href="#s101" x="78"/><use href="#s100" x="84"/><use href="#s108" x="90"/><use href="#s97" x="96"/><use href="#s122" x="102"/><use href="#s101" x="108"/><use href="#s99" x="114"/><use href="#s107" x="120"/><use href="#s50" x="126"/><use href="#s48" x="132"/><use href="#s50" x="138"/><use href="#s48" x="144"/><use href="#s41" x="150"/><text x="0" y="10">nsv6400675 (Sedlazeck2020)</text></g>
<g transform="translate(61 343)"><use href="#s101" x="0"/><use href="#s115" x="6"/><use href="#s118" x="12"/><use href="#s53" x="18"/><use href="#s55" x="24"/><use href="#s53" x="30"/><use href="#s54" x="36"/><use href="#s40" x="48"/><use href="#s65" x="54"/><use href="#s104" x="60"/><use href="#s110" x="66"/><use href="#s50" x="72"/><use href="#s48" x="78"/><use href="#s48" x="84"/><use href="#s57" x="90"/><use href="#s41" x="96"/><text x="0" y="10">esv5756 (Ahn2009)</text></g>
<g transform="translate(61 364)"><use href="#s101" x="0"/><use href="#s115" x="6"/><use href="#s118" x="12"/><use href="#s51" x="18"/><use href="#s54" x="24"/><use href="#s48" x="30"/><use href="#s57" x="36"/><use href="#s48" x="42"/><use href="#s54" x="48"/><use href="#s55" x="54"/><use href="#s40" x="66"/><use href="#s49" x="72"/><use href="#s48" x="78"/><use href="#s48" x="84"/><use href="#s48" x="90"/><use href="#s71" x="96"/><use href="#s101" x="102"/><use href="#s110" x="108"/><use href="#s111" x="114"/><use href="#s109" x="120"/><use href="#s101" x="126"/><use href="#s115" x="132"/><use href="#s67" x="138"/><use href="#s111" x="144"/><use href="#s110" x="150"/><use href="#s115" x="156"/><use href="#s111" x="162"/><use href="#s114" x="168"/><use href="#s116" x="174"/><use href="#s105" x="180"/><use href="#s117" x="186"/><use href="#s109" x="192"/><use href="#s80" x="198"/><use href="#s104" x="204"/><use href="#s97" x="210"/><use href="#s115" x="216"/><use href="#s101" x="222"/><use href="#s51" x="228"/><use href="#s41" x="234"/><text x="0" y="10">esv3609067 (1000GenomesConsortiumPhase3)</text></g>
<g transform="translate(61 385)"><use href="#s101" x="0"/><use href="#s115" x="6"/><use href="#s118" x="12"/><use href="#s50" x="18"/><use href="#s54" x="24"/><use href="#s53" x="30"/><use href="#s57" x="36"/><use href="#s53" x="42"/><use href="#s54" x="48"/><use href="#s51" x="54"/><use href="#s40" x="66"/><use href="#s49" x="72"/><use href="#s48" x="78"/><use href="#s48" x="84"/><use href="#s48" x="90"/><use href="#s71" x="96"/><use href="#s101" x="102"/><use href="#s110" x="108"/><use href="#s111" x="114"/><use href="#s109" x="120"/><use href="#s101" x="126"/><use href="#s115" x="132"/><use href="#s67" x="138"/><use href="#s111" x="144"/><use href="#s110" x="150"/><use href="#s115" x="156"/><use href="#s111" x="162"/><use href="#s114" x="168"/><use href="#s116" x="174"/><use href="#s105" x="180"/><use href="#s117" x="186"/><use href="#s109" x="192"/><use href="#s80" x="198"/><use href="#s104" x="204"/><use href="#s97" x="210"/><use href="#s115" x="216"/><use href="#s101" x="222"/><use href="#s49" x="228"/><use href="#s41" x="234"/><text x="0" y="10">esv2659563 (1000GenomesConsortiumPhase1)</text></g>
<g transform="translate(61 406)"><use href="#s110" x="0"/><use href="#s115" x="6"/><use href="#s118" x="12"/><use href="#s53" x="18"/><use href="#s57" x="24"/><use href="#s48" x="30"/><use href="#s51" x="36"/><use href="#s49" x="42"/><use href="#s54" x="48"/><use href="#s52" x="54"/><use href="#s40" x="66"/><use href="#s65" x="72"/><use href="#s108" x="78"/><use href="#s109" x="84"/><use href="#s97" x="90"/><use href="#s114" x="96"/><use href="#s114" x="102"/><use href="#s105" x="108"/><use href="#s50" x="114"/><use href="#s48" x="120"/><use href="#s50" x="126"/><use href="#s48" x="132"/><use href="#s41" x="138"/><text x="0" y="10">nsv5903164 (Almarri2020)</text></g>
<g transform="translate(61 427)"><use href="#s110" x="0"/><use href="#s115" x="6"/><use href="#s118" x="12"/><use href="#s53" x="18"/><use href="#s52" x="24"/><use href="#s53" x="30"/><use href="#s56" x="36"/><use href="#s50" x="42"/><use href="#s55" x="48"/><use href="#s53" x="54"/><use href="#s40" x="66"/><use href="#s66" x="72"/><use href="#s121" x="78"/><use href="#s114" x="84"/><use href="#s115" x="90"/><use href="#s107" x="96"/><use href="#s97" x="102"/><use href="#s66" x="108"/><use href="#s105" x="114"/><use href="#s115" x="120"/><use href="#s104" x="126"/><use href="#s111" x="132"/><use href="#s112" x="138"/><use href="#s50" x="144"/><use href="#s48" x="150"/><use href="#s50" x="156"/><use href="#s50" x="162"/><use href="#s41" x="168"/><text x="0" y="10">nsv5458275 (ByrskaBishop2022)</text></g>
<g transform="translate(61 448)"><use href="#s110" x="0"/><use href="#s115" x="6"/><use href="#s118" x="12"/><use href="#s52" x="18"/><use href="#s49" x="24"/><use href="#s52" x="30"/><use href="#s55" x="36"/><use href="#s51" x="42"/><use href="#s55" x="48"/><use href="#s55" x="54"/><use href="#s40" x="66"/><use href="#s103" x="72"/><use href="#s110" x="78"/><use href="#s111" x="84"/><use href="#s109" x="90"/><use href="#s65" x="96"/><use href="#s68" x="102"/><use href="#s83" x="108"/><use href="#s116" x="114"/><use href="#s114" x="120"/><use href="#s117" x="126"/><use href="#s99" x="132"/><use href="#s116" x="138"/><use href="#s117" x="144"/><use href="#s114" x="150"/><use href="#s97" x="156"/><use href="#s108" x="162"/><use href="#s86" x="168"/><use href="#s97" x="174"/><use href="#s114" x="180"/><use href="#s105" x="186"/><use href="#s97" x="192"/><use href="#s110" x="198"/><use href="#s116" x="204"/><use href="#s115" x="210"/><use href="#s41" x="216"/><text x="0" y="10">nsv4147377 (gnomADStructuralVariants)</text></g>
<g transform="translate(61 469)"><use href="#s110" x="0"/><use href="#s115" x="6"/><use href="#s118" x="12"/><use href="#s54" x="18"/><use href="#s52" x="24"/><use href="#s49" x="30"/><use href="#s49" x="36"/><use href="#s56" x="42"/><use href="#s49" x="48"/><use href="#s49" x="54"/><use href="#s40" x="66"/><use href="#s83" x="72"/><use href="#s101" x="78"/><use href="#s100" x="84"/><use href="#s108" x="90"/><use href="#s97" x="96"/><use href="#s122" x="102"/><use href="#s101" x="108"/><use href="#s99" x="114"/><use href="#s107" x="120"/><use href="#s50" x="126"/><use href="#s48" x="132"/><use href="#s50" x="138"/><use href="#s48" x="144"/><use href="#s41" x="150"/><text x="0" y="10">nsv6411811 (Sedlazeck2020)</text></g>
<g transform="translate(61 490)"><use href="#s101" x="0"/><use href="#s115" x="6"/><use href="#s118" x="12"/><use href="#s52" x="18"/><use href="#s50" x="24"/><use href="#s52" x="30"/><use href="#s50" x="36"/><use href="#s40" x="48"/><use href="#s87" x="54"/><use href="#s97" x="60"/><use href="#s110" x="66"/><use href="#s103" x="72"/><use href="#s50" x="78"/><use href="#s48" x="84"/><use href="#s48" x="90"/><use href="#s56" x="96"/><use href="#s41" x="102"/><text x="0" y="10">esv4242 (Wang2008)</text></g>
<g transform="translate(61 511)"><use href="#s101" x="0"/><use href="#s115" x="6"/><use href="#s118" x="12"/><use href="#s50" x="18"/><use href="#s55" x="24"/><use href="#s51" x="30"/><use href="#s50" x="36"/><use href="#s49" x="42"/><use href="#s49" x="48"/><use href="#s50" x="54"/><use href="#s40" x="66"/><use href="#s87" x="72"/><use href="#s111" x="78"/><use href="#s110" x="84"/><use href="#s103" x="90"/><use href="#s50" x="96"/><use href="#s48" x="102"/><use href="#s49" x="108"/><use href="#s50" x="114"/><use href="#s98" x="120"/><use href="#s41" x="126"/><text x="0" y="10">esv2732112 (Wong2012b)</text></g>
<g transform="translate(61 532)"><use href="#s101" x="0"/><use href="#s115" x="6"/><use href="#s118" x="12"/><use href="#s51" x="18"/><use href="#s53" x="24"/><use href="#s51" x="30"/><use href="#s57" x="36"/><use href="#s55" x="42"/><use href="#s55" x="48"/><use href="#s49" x="54"/><use href="#s40" x="66"/><use href="#s66" x="72"/><use href="#s111" x="78"/><use href="#s111" x="84"/><use href="#s109" x="90"/><use href="#s115" x="96"/><use href="#s109" x="102"/><use href="#s97" x="108"/><use href="#s50" x="114"/><use href="#s48" x="120"/><use href="#s49" x="126"/><use href="#s52" x="132"/><use href="#s41" x="138"/><text x="0" y="10">esv3539771 (Boomsma2014)</text></g>
<g transform="translate(61 553)"><use href="#s110" x="0"/><use href="#s115" x="6"/><use href="#s118" x="12"/><use href="#s52" x="18"/><use href="#s55" x="24"/><use href="#s52" x="30"/><use href="#s52" x="36"/><use href="#s55" x="42"/><use href="#s49" x="48"/><use href="#s51" x="54"/><use href="#s40" x="66"/><use href="#s81" x="72"/><use href="#s117" x="78"/><use href="#s97" x="84"/><use href="#s110" x="90"/><use href="#s50" x="96"/><use href="#s48" x="102"/><use href="#s50" x="108"/><use href="#s49" x="114"/><use href="#s41" x="120"/><text x="0" y="10">nsv4744713 (Quan2021)</text></g>
<g transform="translate(61 574)"><use href="#s100" x="0"/><use href="#s103" x="6"/><use href="#s118" x="12"/><use href="#s51" x="18"/><use href="#s51" x="24"/><use href="#s49" x="30"/><use href="#s56" x="36"/><use href="#s110" x="42"/><use href="#s49" x="48"/><use href="#s48" x="54"/><use href="#s54" x="60"/><use href="#s40" x="72"/><use href="#s65" x="78"/><use href="#s108" x="84"/><use href="#s115" x="90"/><use href="#s109" x="96"/><use href="#s97" x="102"/><use href="#s100" x="108"/><use href="#s105" x="114"/><use href="#s50" x="120"/><use href="#s48" x="126"/><use href="#s49" x="132"/><use href="#s52" x="138"/><use href="#s41" x="144"/><text x="0" y="10">dgv3318n106 (Alsmadi2014)</text></g>
<g transform="translate(61 595)"><use href="#s100" x="0"/><use href="#s103" x="6"/><use href="#s118" x="12"/><use href="#s55" x="18"/><use href="#s57" x="24"/><use href="#s48" x="30"/><use href="#s57" x="36"/><use href="#s110" x="42"/><use href="#s49" x="48"/><use href="#s53" x="54"/><use href="#s50" x="60"/><use href="#s40" x="72"/><use href="#s67" x="78"/><use href="#s104" x="84"/><use href="#s97" x="90"/><use href="#s105" x="96"/><use href="#s115" x="102"/><use href="#s115" x="108"/><use href="#s111" x="114"/><use href="#s110" x="120"/><use href="#s50" x="126"/><use href="#s48" x="132"/><use href="#s49" x="138"/><use href="#s57" x="144"/><use href="#s41" x="150"/><text x="0" y="10">dgv7909n152 (Chaisson2019)</text></g>
<g transform="translate(61 616)"><use href="#s101" x="0"/><use href="#s115" x="6"/><use href="#s118" x="12"/><use href="#s50" x="18"/><use href="#s54" x="24"/><use href="#s54" x="30"/><use href="#s50" x="36"/><use href="#s56" x="42"/><use href="#s51" x="48"/><use href="#s50" x="54"/><use href="#s40" x="66"/><use href="#s49" x="72"/><use href="#s48" x="78"/><use href="#s48" x="84"/><use href="#s48" x="90"/><use href="#s71" x="96"/><use href="#s101" x="102"/><use href="#s110" x="108"/><use href="#s111" x="114"/><use href="#s109" x="120"/><use href="#s101" x="126"/><use href="#s115" x="132"/><use href="#s67" x="138"/><use href="#s111" x="144"/><use href="#s110" x="150"/><use href="#s115" x="156"/><use href="#s111" x="162"/><use href="#s114" x="168"/><use href="#s116" x="174"/><use href="#s105" x="180"/><use href="#s117" x="186"/><use href="#s109" x="192"/><use href="#s80" x="198"/><use href="#s104" x="204"/><use href="#s97" x="210"/><use href="#s115" x="216"/><use href="#s101" x="222"/><use href="#s49" x="228"/><use href="#s41" x="234"/><text x="0" y="10">esv2662832 (1000GenomesConsortiumPhase1)</text></g>
<g transform="translate(61 637)"><use href="#s110" x="0"/><use href="#s115" x="6"/><use href="#s118" x="12"/><use href="#s51" x="18"/><use href="#s57" x="24"/><use href="#s52" x="30"/><use href="#s49" x="36"/><use href="#s57" x="42"/><use href="#s52" x="48"/><use href="#s56" x="54"/><use href="#s40" x="66"/><use href="#s87" x="72"/><use href="#s101" x="78"/><use href="#s110" x="84"/><use href="#s103" x="90"/><use href="#s101" x="96"/><use href="#s114" x="102"/><use href="#s50" x="108"/><use href="#s48" x="114"/><use href="#s49" x="120"/><use href="#s57" x="126"/><use href="#s41" x="132"/><text x="0" y="10">nsv3941948 (Wenger2019)</text></g>
<g transform="translate(61 658)"><use href="#s110" x="0"/><use href="#s115" x="6"/><use href="#s118" x="12"/><use href="#s53" x="18"/><use href="#s53" x="24"/><use href="#s54" x="30"/><use href="#s52" x="36"/><use href="#s57" x="42"/><use href="#s53" x="48"/><use href="#s53" x="54"/><use href="#s40" x="66"/><use href="#s69" x="72"/><use href="#s98" x="78"/><use href="#s101" x="84"/><use href="#s114" x="90"/><use href="#s116" x="96"/><use href="#s50" x="102"/><use href="#s48" x="108"/><use href="#s50" x="114"/><use href="#s49" x="120"/><use href="#s41" x="126"/><text x="0" y="10">nsv5564955 (Ebert2021)</text></g>
<g transform="translate(61 679)"><use href="#s110" x="0"/><use href="#s115" x="6"/><use href="#s118" x="12"/><use href="#s54" x="18"/><use href="#s48" x="24"/><use href="#s49" x="30"/><use href="#s51" x="36"/><use href="#s51" x="42"/><use href="#s56" x="48"/><use href="#s52" x="54"/><use href="#s40" x="66"/><use href="#s87" x="72"/><use href="#s117" x="78"/><use href="#s50" x="84"/><use href="#s48" x="90"/><use href="#s50" x="96"/><use href="#s49" x="102"/><use href="#s41" x="108"/><text x="0" y="10">nsv6013384 (Wu2021)</text></g>
<g transform="translate(61 700)"><use href="#s110" x="0"/><use href="#s115" x="6"/><use href="#s118" x="12"/><use href="#s52" x="18"/><use href="#s52" x="24"/><use href="#s52" x="30"/><use href="#s52" x="36"/><use href="#s57" x="42"/><use href="#s50" x="48"/><use href="#s54" x="54"/><use href="#s40" x="66"/><use href="#s71" x="72"/><use href="#s101" x="78"/><use href="#s110" x="84"/><use href="#s111" x="90"/><use href="#s109" x="96"/><use href="#s101" x="102"/><use href="#s105" x="108"/><use href="#s110" x="114"/><use href="#s97" x="120"/><use href="#s66" x="126"/><use href="#s111" x="132"/><use href="#s116" x="138"/><use href="#s116" x="144"/><use href="#s108" x="150"/><use href="#s101" x="156"/><use href="#s41" x="162"/><text x="0" y="10">nsv4444926 (GenomeinaBottle)</text></g>
<g transform="translate(61 721)"><use href="#s110" x="0"/><use href="#s115" x="6"/><use href="#s118" x="12"/><use href="#s53" x="18"/><use href="#s56" x="24"/><use href="#s56" x="30"/><use href="#s56" x="36"/><use href="#s51" x="42"/><use href="#s54" x="48"/><use href="#s57" x="54"/><use href="#s40" x="66"/><use href="#s65" x="72"/><use href="#s108" x="78"/><use href="#s109" x="84"/><use href="#s97" x="90"/><use href="#s114" x="96"/><use href="#s114" x="102"/><use href="#s105" x="108"/><use href="#s50" x="114"/><use href="#s48" x="120"/><use href="#s50" x="126"/><use href="#s48" x="132"/><use href="#s41" x="138"/><text x="0" y="10">nsv5888369 (Almarri2020)</text></g>
<g transform="translate(61 742)"><use href="#s110" x="0"/><use href="#s115" x="6"/><use href="#s118" x="12"/><use href="#s53" x="18"/><use href="#s52" x="24"/><use href="#s54" x="30"/><use href="#s53" x="36"/><use href="#s52" x="42"/><use href="#s48" x="48"/><use href="#s48" x="54"/><use href="#s40" x="66"/><use href="#s66" x="72"/><use href="#s121" x="78"/><use href="#s114" x="84"/><use href="#s115" x="90"/><use href="#s107" x="96"/><use href="#s97" x="102"/><use href="#s66" x="108"/><use href="#s105" x="114"/><use href="#s115" x="120"/><use href="#s104" x="126"/><use href="#s111" x="132"/><use href="#s112" x="138"/><use href="#s50" x="144"/><use href="#s48" x="150"/><use href="#s50" x="156"/><use href="#s50" x="162"/><use href="#s41" x="168"/><text x="0" y="10">nsv5465400 (ByrskaBishop2022)</text></g>
<g transform="translate(61 763)"><use href="#s110" x="0"/><use href="#s115" x="6"/><use href="#s118" x="12"/><use href="#s52" x="18"/><use href="#s53" x="24"/><use href="#s50" x="30"/><use href="#s50" x="36"/><use href="#s52" x="42"/><use href="#s54" x="48"/><use href="#s55" x="54"/><use href="#s40" x="66"/><use href="#s103" x="72"/><use href="#s110" x="78"/><use href="#s111" x="84"/><use href="#s109" x="90"/><use href="#s65" x="96"/><use href="#s68" x="102"/><use href="#s83" x="108"/><use href="#s116" x="114"/><use href="#s114" x="120"/><use href="#s117" x="126"/><use href="#s99" x="132"/><use href="#s116" x="138"/><use href="#s117" x="144"/><use href="#s114" x="150"/><use href="#s97" x="156"/><use href="#s108" x="162"/><use href="#s86" x="168"/><use href="#s97" x="174"/><use href="#s114" x="180"/><use href="#s105" x="186"/><use href="#s97" x="192"/><use href="#s110" x="198"/><use href="#s116" x="204"/><use href="#s115" x="210"/><use href="#s41" x="216"/><text x="0" y="10">nsv4522467 (gnomADStructuralVariants)</text></g>
<g transform="translate(61 784)"><use href="#s110" x="0"/><use href="#s115" x="6"/><use href="#s118" x="12"/><use href="#s57" x="18"/><use href="#s53" x="24"/><use href="#s53" x="30"/><use href="#s55" x="36"/><use href="#s57" x="42"/><use href="#s49" x="48"/><use href="#s40" x="60"/><use href="#s68" x="66"/><use href="#s111" x="72"/><use href="#s103" x="78"/><use href="#s97" x="84"/><use href="#s110" x="90"/><use href="#s50" x="96"/><use href="#s48" x="102"/><use href="#s49" x="108"/><use href="#s52" x="114"/><use href="#s41" x="120"/><text x="0" y="10">nsv955791 (Dogan2014)</text></g>
<g transform="translate(61 805)"><use href="#s110" x="0"/><use href="#s115" x="6"/><use href="#s118" x="12"/><use href="#s51" x="18"/><use href="#s51" x="24"/><use href="#s56" x="30"/><use href="#s57" x="36"/><use href="#s51" x="42"/><use href="#s55" x="48"/><use href="#s51" x="54"/><use href="#s40" x="66"/><use href="#s65" x="72"/><use href="#s117" x="78"/><use href="#s100" x="84"/><use href="#s97" x="90"/><use href="#s110" x="96"/><use href="#s111" x="102"/><use href="#s50" x="108"/><use href="#s48" x="114"/><use href="#s49" x="120"/><use href="#s57" x="126"/><use href="#s41" x="132"/><text x="0" y="10">nsv3389373 (Audano2019)</text></g>
<g transform="translate(82 826)"><use href="#s110" x="0"/><use href="#s115" x="6"/><use href="#s118" x="12"/><use href="#s49" x="18"/><use href="#s48" x="24"/><use href="#s55" x="30"/><use href="#s52" x="36"/><use href="#s57" x="42"/><use href="#s51" x="48"/><use href="#s51" x="54"/><use href="#s40" x="66"/><use href="#s84" x="72"/><use href="#s104" x="78"/><use href="#s97" x="84"/><use href="#s114" x="90"/><use href="#s101" x="96"/><use href="#s106" x="102"/><use href="#s97" x="108"/><use href="#s50" x="114"/><use href="#s48" x="120"/><use href="#s49" x="126"/><use href="#s53" x="132"/><use href="#s41" x="138"/><text x="0" y="10">nsv1074933 (Thareja2015)</text></g>
<g transform="translate(94 847)"><use href="#s110" x="0"/><use href="#s115" x="6"/><use href="#s118" x="12"/><use href="#s53" x="18"/><use href="#s56" x="24"/><use href="#s52" x="30"/><use href="#s53" x="36"/><use href="#s54" x="42"/><use href="#s53" x="48"/><use href="#s49" x="54"/><use href="#s40" x="66"/><use href="#s65" x="72"/><use href="#s108" x="78"/><use href="#s109" x="84"/><use href="#s97" x="90"/><use href="#s114" x="96"/><use href="#s114" x="102"/><use href="#s105" x="108"/><use href="#s50" x="114"/><use href="#s48" x="120"/><use href="#s50" x="126"/><use href="#s48" x="132"/><use href="#s41" x="138"/><text x="0" y="10">nsv5845651 (Almarri2020)</text></g>
<g transform="translate(300 868)"><use href="#s110" x="0"/><use href="#s115" x="6"/><use href="#s118" x="12"/><use href="#s53" x="18"/><use href="#s56" x="24"/><use href="#s57" x="30"/><use href="#s52" x="36"/><use href="#s54" x="42"/><use href="#s57" x="48"/><use href="#s49" x="54"/><use href="#s40" x="66"/><use href="#s65" x="72"/><use href="#s108" x="78"/><use href="#s109" x="84"/><use href="#s97" x="90"/><use href="#s114" x="96"/><use href="#s114" x="102"/><use href="#s105" x="108"/><use href="#s50" x="114"/><use href="#s48" x="120"/><use href="#s50" x="126"/><use href="#s48" x="132"/><use href="#s41" x="138"/><text x="0" y="10">nsv5894691 (Almarri2020)</text></g>
<g transform="translate(842 868)"><use href="#s110" x="0"/><use href="#s115" x="6"/><use href="#s118" x="12"/><use href="#s53" x="18"/><use href="#s54" x="24"/><use href="#s50" x="30"/><use href="#s54" x="36"/><use href="#s51" x="42"/><text x="0" y="10">nsv56263</text></g>
<g transform="translate(395 889)"><use href="#s110" x="0"/><use href="#s115" x="6"/><use href="#s118" x="12"/><use href="#s51" x="18"/><use href="#s52" x="24"/><use href="#s57" x="30"/><use href="#s49" x="36"/><use href="#s51" x="42"/><use href="#s52" x="48"/><use href="#s40" x="60"/><use href="#s77" x="66"/><use href="#s105" x="72"/><use href="#s108" x="78"/><use href="#s108" x="84"/><use href="#s115" x="90"/><use href="#s50" x="96"/><use href="#s48" x="102"/><use href="#s48" x="108"/><use href="#s54" x="114"/><use href="#s41" x="120"/><text x="0" y="10">nsv349134 (Mills2006)</text></g>
<g transform="translate(603 889)"><use href="#s110" x="0"/><use href="#s115" x="6"/><use href="#s118" x="12"/><use href="#s54" x="18"/><use href="#s48" x="24"/><use href="#s55" x="30"/><use href="#s52" x="36"/><use href="#s50" x="42"/><use href="#s48" x="48"/><use href="#s57" x="54"/><use href="#s40" x="66"/><use href="#s87" x="72"/><use href="#s117" x="78"/><use href="#s50" x="84"/><use href="#s48" x="90"/><use href="#s50" x="96"/><use href="#s49" x="102"/><use href="#s41" x="108"/><text x="0" y="10">nsv6074209 (Wu2021)</text></g>
<g transform="translate(728 889)"><use href="#s110" x="0"/><use href="#s115" x="6"/><use href="#s118" x="12"/><use href="#s53" x="18"/><use href="#s54" x="24"/><use href="#s52" x="30"/><use href="#s50" x="36"/><use href="#s50" x="42"/><use href="#s56" x="48"/><use href="#s54" x="54"/><use href="#s40" x="66"/><use href="#s69" x="72"/><use href="#s98" x="78"/><use href="#s101" x="84"/><use href="#s114" x="90"/><use href="#s116" x="96"/><use href="#s50" x="102"/><use href="#s48" x="108"/><use href="#s50" x="114"/><use href="#s49" x="120"/><use href="#s41" x="126"/><text x="0" y="10">nsv5642286 (Ebert2021)</text></g>
<g transform="translate(421 910)"><use href="#s110" x="0"/><use href="#s115" x="6"/><use href="#s118" x="12"/><use href="#s51" x="18"/><use href="#s53" x="24"/><use href="#s52" x="30"/><use href="#s48" x="36"/><use href="#s52" x="42"/><use href="#s52" x="48"/><use href="#s52" x="54"/><use href="#s40" x="66"/><use href="#s67" x="72"/><use href="#s104" x="78"/><use href="#s97" x="84"/><use href="#s105" x="90"/><use href="#s115" x="96"/><use href="#s115" x="102"/><use href="#s111" x="108"/><use href="#s110" x="114"/><use href="#s50" x="120"/><use href="#s48" x="126"/><use href="#s49" x="132"/><use href="#s57" x="138"/><use href="#s41" x="144"/><text x="0" y="10">nsv3540444 (Chaisson2019)</text></g>
<g transform="translate(574 910)"><use href="#s110" x="0"/><use href="#s115" x="6"/><use href="#s118" x="12"/><use href="#s53" x="18"/><use href="#s53" x="24"/><use href="#s56" x="30"/><use href="#s50" x="36"/><use href="#s56" x="42"/><use href="#s49" x="48"/><use href="#s57" x="54"/><use href="#s40" x="66"/><use href="#s69" x="72"/><use href="#s98" x="78"/><use href="#s101" x="84"/><use href="#s114" x="90"/><use href="#s116" x="96"/><use href="#s50" x="102"/><use href="#s48" x="108"/><use href="#s50" x="114"/><use href="#s49" x="120"/><use href="#s41" x="126"/><text x="0" y="10">nsv5582819 (Ebert2021)</text></g>
<g transform="translate(728 910)"><use href="#s110" x="0"/><use href="#s115" x="6"/><use href="#s118" x="12"/><use href="#s54" x="18"/><use href="#s48" x="24"/><use href="#s55" x="30"/><use href="#s56" x="36"/><use href="#s51" x="42"/><use href="#s49" x="48"/><use href="#s50" x="54"/><use href="#s40" x="66"/><use href="#s87" x="72"/><use href="#s117" x="78"/><use href="#s50" x="84"/><use href="#s48" x="90"/><use href="#s50" x="96"/><use href="#s49" x="102"/><use href="#s41" x="108"/><text x="0" y="10">nsv6078312 (Wu2021)</text></g>
<g transform="translate(434 931)"><use href="#s110" x="0"/><use href="#s115" x="6"/><use href="#s118" x="12"/><use href="#s53" x="18"/><use href="#s54" x="24"/><use href="#s51" x="30"/><use href="#s55" x="36"/><use href="#s57" x="42"/><use href="#s48" x="48"/><use href="#s50" x="54"/><use href="#s40" x="66"/><use href="#s69" x="72"/><use href="#s98" x="78"/><use href="#s101" x="84"/><use href="#s114" x="90"/><use href="#s116" x="96"/><use href="#s50" x="102"/><use href="#s48" x="108"/><use href="#s50" x="114"/><use href="#s49" x="120"/><use href="#s41" x="126"/><text x="0" y="10">nsv5637902 (Ebert2021)</text></g>
<g transform="translate(711 931)"><use href="#s110" x="0"/><use href="#s115" x="6"/><use href="#s118" x="12"/><use href="#s53" x="18"/><use href="#s54" x="24"/><use href="#s50" x="30"/><use href="#s55" x="36"/><use href="#s56" x="42"/><use href="#s55" x="48"/><use href="#s50" x="54"/><use href="#s40" x="66"/><use href="#s69" x="72"/><use href="#s98" x="78"/><use href="#s101" x="84"/><use href="#s114" x="90"/><use href="#s116" x="96"/><use href="#s50" x="102"/><use href="#s48" x="108"/><use href="#s50" x="114"/><use href="#s49" x="120"/><use href="#s41" x="126"/><text x="0" y="10">nsv5627872 (Ebert2021)</text></g>
<g transform="translate(434 952)"><use href="#s110" x="0"/><use href="#s115" x="6"/><use href="#s118" x="12"/><use href="#s53" x="18"/><use href="#s57" x="24"/><use href="#s54" x="30"/><use href="#s48" x="36"/><use href="#s56" x="42"/><use href="#s49" x="48"/><use href="#s54" x="54"/><use href="#s40" x="66"/><use href="#s65" x="72"/><use href="#s108" x="78"/><use href="#s109" x="84"/><use href="#s97" x="90"/><use href="#s114" x="96"/><use href="#s114" x="102"/><use href="#s105" x="108"/><use href="#s50" x="114"/><use href="#s48" x="120"/><use href="#s50" x="126"/><use href="#s48" x="132"/><use href="#s41" x="138"/><text x="0" y="10">nsv5960816 (Almarri2020)</text></g>
<g transform="translate(470 973)"><use href="#s110" x="0"/><use href="#s115" x="6"/><use href="#s118" x="12"/><use href="#s51" x="18"/><use href="#s50" x="24"/><use href="#s56" x="30"/><use href="#s54" x="36"/><use href="#s55" x="42"/><use href="#s48" x="48"/><use href="#s52" x="54"/><use href="#s40" x="66"/><use href="#s67" x="72"/><use href="#s104" x="78"/><use href="#s97" x="84"/><use href="#s105" x="90"/><use href="#s115" x="96"/><use href="#s115" x="102"/><use href="#s111" x="108"/><use href="#s110" x="114"/><use href="#s50" x="120"/><use href="#s48" x="126"/><use href="#s49" x="132"/><use href="#s57" x="138"/><use href="#s41" x="144"/><text x="0" y="10">nsv3286704 (Chaisson2019)</text></g>
<g transform="translate(485 994)"><use href="#s110" x="0"/><use href="#s115" x="6"/><use href="#s118" x="12"/><use href="#s53" x="18"/><use href="#s56" x="24"/><use href="#s57" x="30"/><use href="#s57" x="36"/><use href="#s53" x="42"/><use href="#s53" x="48"/><use href="#s50" x="54"/><use href="#s40" x="66"/><use href="#s65" x="72"/><use href="#s108" x="78"/><use href="#s109" x="84"/><use href="#s97" x="90"/><use href="#s114" x="96"/><use href="#s114" x="102"/><use href="#s105" x="108"/><use href="#s50" x="114"/><use href="#s48" x="120"/><use href="#s50" x="126"/><use href="#s48" x="132"/><use href="#s41" x="138"/><text x="0" y="10">nsv5899552 (Almarri2020)</text></g>
<g transform="translate(492 1015)"><use href="#s110" x="0"/><use href="#s115" x="6"/><use href="#s118" x="12"/><use href="#s54" x="18"/><use href="#s48" x="24"/><use href="#s49" x="30"/><use href="#s48" x="36"/><use href="#s54" x="42"/><use href="#s55" x="48"/><use href="#s57" x="54"/><use href="#s40" x="66"/><use href="#s87" x="72"/><use href="#s117" x="78"/><use href="#s50" x="84"/><use href="#s48" x="90"/><use href="#s50" x="96"/><use href="#s49" x="102"/><use href="#s41" x="108"/><text x="0" y="10">nsv6010679 (Wu2021)</text></g>
<g transform="translate(517 1036)"><use href="#s110" x="0"/><use href="#s115" x="6"/><use href="#s118" x="12"/><use href="#s51" x="18"/><use href="#s51" x="24"/><use href="#s57" x="30"/><use href="#s48" x="36"/><use href="#s56" x="42"/><use href="#s53" x="48"/><use href="#s50" x="54"/><use href="#s40" x="66"/><use href="#s65" x="72"/><use href="#s117" x="78"/><use href="#s100" x="84"/><use href="#s97" x="90"/><use href="#s110" x="96"/><use href="#s111" x="102"/><use href="#s50" x="108"/><use href="#s48" x="114"/><use href="#s49" x="120"/><use href="#s57" x="126"/><use href="#s41" x="132"/><text x="0" y="10">nsv3390852 (Audano2019)</text></g>
<g transform="translate(517 1057)"><use href="#s110" x="0"/><use href="#s115" x="6"/><use href="#s118" x="12"/><use href="#s50" x="18"/><use href="#s56" x="24"/><use href="#s49" x="30"/><use href="#s52" x="36"/><use href="#s57" x="42"/><use href="#s53" x="48"/><use href="#s56" x="54"/><use href="#s40" x="66"/><use href="#s72" x="72"/><use href="#s117" x="78"/><use href="#s100" x="84"/><use href="#s100" x="90"/><use href="#s108" x="96"/><use href="#s101" x="102"/><use href="#s115" x="108"/><use href="#s116" x="114"/><use href="#s111" x="120"/><use href="#s110" x="126"/><use href="#s50" x="132"/><use href="#s48" x="138"/><use href="#s49" x="144"/><use href="#s54" x="150"/><use href="#s41" x="156"/><text x="0" y="10">nsv2814958 (Huddleston2016)</text></g>
<g transform="translate(523 1078)"><use href="#s110" x="0"/><use href="#s115" x="6"/><use href="#s118" x="12"/><use href="#s54" x="18"/><use href="#s48" x="24"/><use href="#s55" x="30"/><use href="#s52" x="36"/><use href="#s48" x="42"/><use href="#s49" x="48"/><use href="#s53" x="54"/><use href="#s40" x="66"/><use href="#s87" x="72"/><use href="#s117" x="78"/><use href="#s50" x="84"/><use href="#s48" x="90"/><use href="#s50" x="96"/><use href="#s49" x="102"/><use href="#s41" x="108"/><text x="0" y="10">nsv6074015 (Wu2021)</text></g>
<g transform="translate(530 1099)"><use href="#s110" x="0"/><use href="#s115" x="6"/><use href="#s118" x="12"/><use href="#s52" x="18"/><use href="#s49" x="24"/><use href="#s51" x="30"/><use href="#s51" x="36"/><use href="#s55" x="42"/><use href="#s56" x="48"/><use href="#s54" x="54"/><use href="#s40" x="66"/><use href="#s103" x="72"/><use href="#s110" x="78"/><use href="#s111" x="84"/><use href="#s109" x="90"/><use href="#s65" x="96"/><use href="#s68" x="102"/><use href="#s83" x="108"/><use href="#s116" x="114"/><use href="#s114" x="120"/><use href="#s117" x="126"/><use href="#s99" x="132"/><use href="#s116" x="138"/><use href="#s117" x="144"/><use href="#s114" x="150"/><use href="#s97" x="156"/><use href="#s108" x="162"/><use href="#s86" x="168"/><use href="#s97" x="174"/><use href="#s114" x="180"/><use href="#s105" x="186"/><use href="#s97" x="192"/><use href="#s110" x="198"/><use href="#s116" x="204"/><use href="#s115" x="210"/><use href="#s41" x="216"/><text x="0" y="10">nsv4133786 (gnomADStructuralVariants)</text></g>
<g transform="translate(555 1120)"><use href="#s110" x="0"/><use href="#s115" x="6"/><use href="#s118" x="12"/><use href="#s51" x="18"/><use href="#s53" x="24"/><use href="#s51" x="30"/><use href="#s48" x="36"/><use href="#s49" x="42"/><use href="#s55" x="48"/><use href="#s54" x="54"/><use href="#s40" x="66"/><use href="#s67" x="72"/><use href="#s104" x="78"/><use href="#s97" x="84"/><use href="#s105" x="90"/><use href="#s115" x="96"/><use href="#s115" x="102"/><use href="#s111" x="108"/><use href="#s110" x="114"/><use href="#s50" x="120"/><use href="#s48" x="126"/><use href="#s49" x="132"/><use href="#s57" x="138"/><use href="#s41" x="144"/><text x="0" y="10">nsv3530176 (Chaisson2019)</text></g>
<g transform="translate(60 1176)"><use href="#b82" x="0"/><use href="#b101" x="7"/><use href="#b102" x="14"/><use href="#b83" x="21"/><use href="#b101" x="28"/><use href="#b113" x="35"/><use href="#b71" x="49"/><use href="#b101" x="56"/><use href="#b110" x="63"/><use href="#b101" x="70"/><use href="#b115" x="77"/><text class="b" x="0" y="10">RefSeq Genes</text></g>
<g transform="translate(61 1188)"><use href="#s72" x="0"/><use href="#s77" x="6"/><use href="#s71" x="12"/><use href="#s67" x="18"/><use href="#s76" x="24"/><use href="#s76" x="30"/><use href="#s49" x="36"/><use href="#s124" x="42"/><use href="#s78" x="48"/><use href="#s82" x="54"/><use href="#s95" x="60"/><use href="#s49" x="66"/><use href="#s48" x="72"/><use href="#s57" x="78"/><use href="#s56" x="84"/><use href="#s54" x="90"/><use href="#s57" x="96"/><text x="0" y="10">HMGCLL1|NR_109869</text></g>
<g transform="translate(61 1213)"><use href="#s72" x="0"/><use href="#s77" x="6"/><use href="#s71" x="12"/><use href="#s67" x="18"/><use href="#s76" x="24"/><use href="#s76" x="30"/><use href="#s49" x="36"/><use href="#s124" x="42"/><use href="#s78" x="48"/><use href="#s77" x="54"/><use href="#s95" x="60"/><use href="#s48" x="66"/><use href="#s48" x="72"/><use href="#s49" x="78"/><use href="#s48" x="84"/><use href="#s52" x="90"/><use href="#s50" x="96"/><use href="#s52" x="102"/><use href="#s48" x="108"/><use href="#s54" x="114"/><text x="0" y="10">HMGCLL1|NM_001042406</text></g>
<g transform="translate(61 1238)"><use href="#s72" x="0"/><use href="#s77" x="6"/><use href="#s71" x="12"/><use href="#s67" x="18"/><use href="#s76" x="24"/><use href="#s76" x="30"/><use href="#s49" x="36"/><use href="#s124" x="42"/><use href="#s78" x="48"/><use href="#s77" x="54"/><use href="#s95" x="60"/><use href="#s48" x="66"/><use href="#s48" x="72"/><use href="#s49" x="78"/><use href="#s50" x="84"/><use href="#s56" x="90"/><use href="#s55" x="96"/><use href="#s55" x="102"/><use href="#s52" x="108"/><use href="#s49" x="114"/><text x="0" y="10">HMGCLL1|NM_001287741</text></g>
<g transform="translate(61 1263)"><use href="#s72" x="0"/><use href="#s77" x="6"/><use href="#s71" x="12"/><use href="#s67" x="18"/><use href="#s76" x="24"/><use href="#s76" x="30"/><use href="#s49" x="36"/><use href="#s124" x="42"/><use href="#s78" x="48"/><use href="#s77" x="54"/><use href="#s95" x="60"/><use href="#s48" x="66"/><use href="#s49" x="72"/><use href="#s57" x="78"/><use href="#s48" x="84"/><use href="#s51" x="90"/><use href="#s54" x="96"/><text x="0" y="10">HMGCLL1|NM_019036</text></g>
<g transform="translate(61 1288)"><use href="#s72" x="0"/><use href="#s77" x="6"/><use href="#s71" x="12"/><use href="#s67" x="18"/><use href="#s76" x="24"/><use href="#s76" x="30"/><use href="#s49" x="36"/><use href="#s124" x="42"/><use href="#s78" x="48"/><use href="#s77" x="54"/><use href="#s95" x="60"/><use href="#s48" x="66"/><use href="#s48" x="72"/><use href="#s49" x="78"/><use href="#s50" x="84"/><use href="#s56" x="90"/><use href="#s55" x="96"/><use href="#s55" x="102"/><use href="#s53" x="108"/><use href="#s51" x="114"/><text x="0" y="10">HMGCLL1|NM_001287753</text></g>
<g transform="translate(61 1313)"><use href="#s72" x="0"/><use href="#s77" x="6"/><use href="#s71" x="12"/><use href="#s67" x="18"/><use href="#s76" x="24"/><use href="#s76" x="30"/><use href="#s49" x="36"/><use href="#s124" x="42"/><use href="#s78" x="48"/><use href="#s77" x="54"/><use href="#s95" x="60"/><use href="#s48" x="66"/><use href="#s48" x="72"/><use href="#s49" x="78"/><use href="#s50" x="84"/><use href="#s56" x="90"/><use href="#s55" x="96"/><use href="#s55" x="102"/><use href="#s52" x="108"/><use href="#s54" x="114"/><text x="0" y="10">HMGCLL1|NM_001287746</text></g>
</g>
</svg></body></html>
